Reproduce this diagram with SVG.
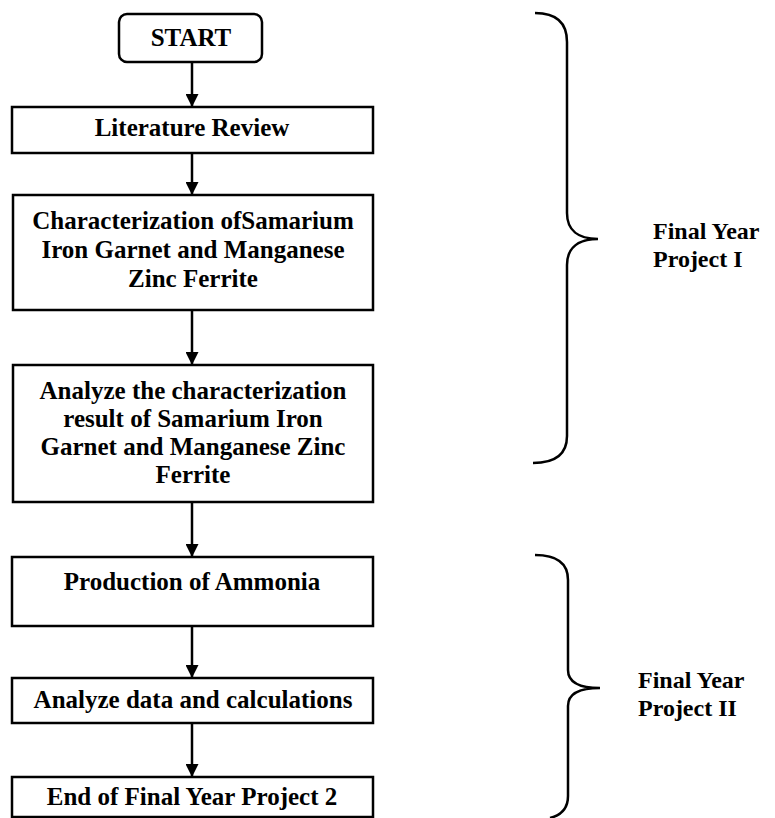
<svg xmlns="http://www.w3.org/2000/svg" width="775" height="818" viewBox="0 0 775 818">
<defs>
<style>
.box{fill:#fff;stroke:#000;stroke-width:2.5}
.t{font-family:"Liberation Serif","Times New Roman",serif;font-weight:bold;font-size:25px;fill:#000;text-anchor:middle}
.lbl{font-family:"Liberation Serif","Times New Roman",serif;font-weight:bold;font-size:24px;fill:#000}
.c{stroke:#000;stroke-width:2.5;fill:none}
.brace{stroke:#000;stroke-width:2.5;fill:none}
</style>
<marker id="ah" markerWidth="14" markerHeight="13" refX="13" refY="6.5" orient="auto" markerUnits="userSpaceOnUse">
<path d="M0,0 L13,6.5 L0,13 Z" fill="#000"/>
</marker>
</defs>
<rect width="775" height="818" fill="#fff"/>
<g id="connectors">
<line class="c" x1="192" y1="62" x2="192" y2="107" marker-end="url(#ah)"/>
<line class="c" x1="192" y1="153" x2="192" y2="195" marker-end="url(#ah)"/>
<line class="c" x1="192" y1="310" x2="192" y2="365" marker-end="url(#ah)"/>
<line class="c" x1="192" y1="502" x2="192" y2="557" marker-end="url(#ah)"/>
<line class="c" x1="192" y1="626" x2="192" y2="678" marker-end="url(#ah)"/>
<line class="c" x1="192" y1="723" x2="192" y2="777" marker-end="url(#ah)"/>
</g>
<g id="start">
<rect class="box" x="119" y="14" width="143" height="48" rx="8"/>
<text class="t" x="191" y="46">START</text>
</g>
<g id="literature">
<rect class="box" x="12" y="107" width="361" height="46"/>
<text class="t" x="192" y="136">Literature Review</text>
</g>
<g id="characterization">
<rect class="box" x="13" y="195" width="360" height="115"/>
<text class="t" x="193" y="229">Characterization ofSamarium</text>
<text class="t" x="193" y="258">Iron Garnet and Manganese</text>
<text class="t" x="193" y="287">Zinc Ferrite</text>
</g>
<g id="analyze-result">
<rect class="box" x="13" y="365" width="360" height="137"/>
<text class="t" x="193" y="399">Analyze the characterization</text>
<text class="t" x="193" y="427">result of Samarium Iron</text>
<text class="t" x="193" y="455">Garnet and Manganese Zinc</text>
<text class="t" x="193" y="483">Ferrite</text>
</g>
<g id="production">
<rect class="box" x="12" y="557" width="361" height="69"/>
<text class="t" x="192" y="590">Production of Ammonia</text>
</g>
<g id="analyze-data">
<rect class="box" x="12" y="678" width="361" height="45"/>
<text class="t" x="193" y="708">Analyze data and calculations</text>
</g>
<g id="end">
<rect class="box" x="12" y="777" width="361" height="40"/>
<text class="t" x="192" y="805">End of Final Year Project 2</text>
</g>
<g id="fyp1">
<path class="brace" d="M535,13 C556,13 567,22 567,42 L567,213 C567,230 578,239 598,239 C578,239 567,248 567,265 L567,436 C567,454 556,463 533,463"/>
<text class="lbl" x="653" y="239">Final Year</text>
<text class="lbl" x="653" y="267">Project I</text>
</g>
<g id="fyp2">
<path class="brace" d="M535,555 C556,555 568,562 568,580 L568,670 C568,682 578,688 600,688 C578,688 568,694 568,706 L568,796 C568,808 562,815 550,818"/>
<text class="lbl" x="638" y="688">Final Year</text>
<text class="lbl" x="638" y="716">Project II</text>
</g>
</svg>
